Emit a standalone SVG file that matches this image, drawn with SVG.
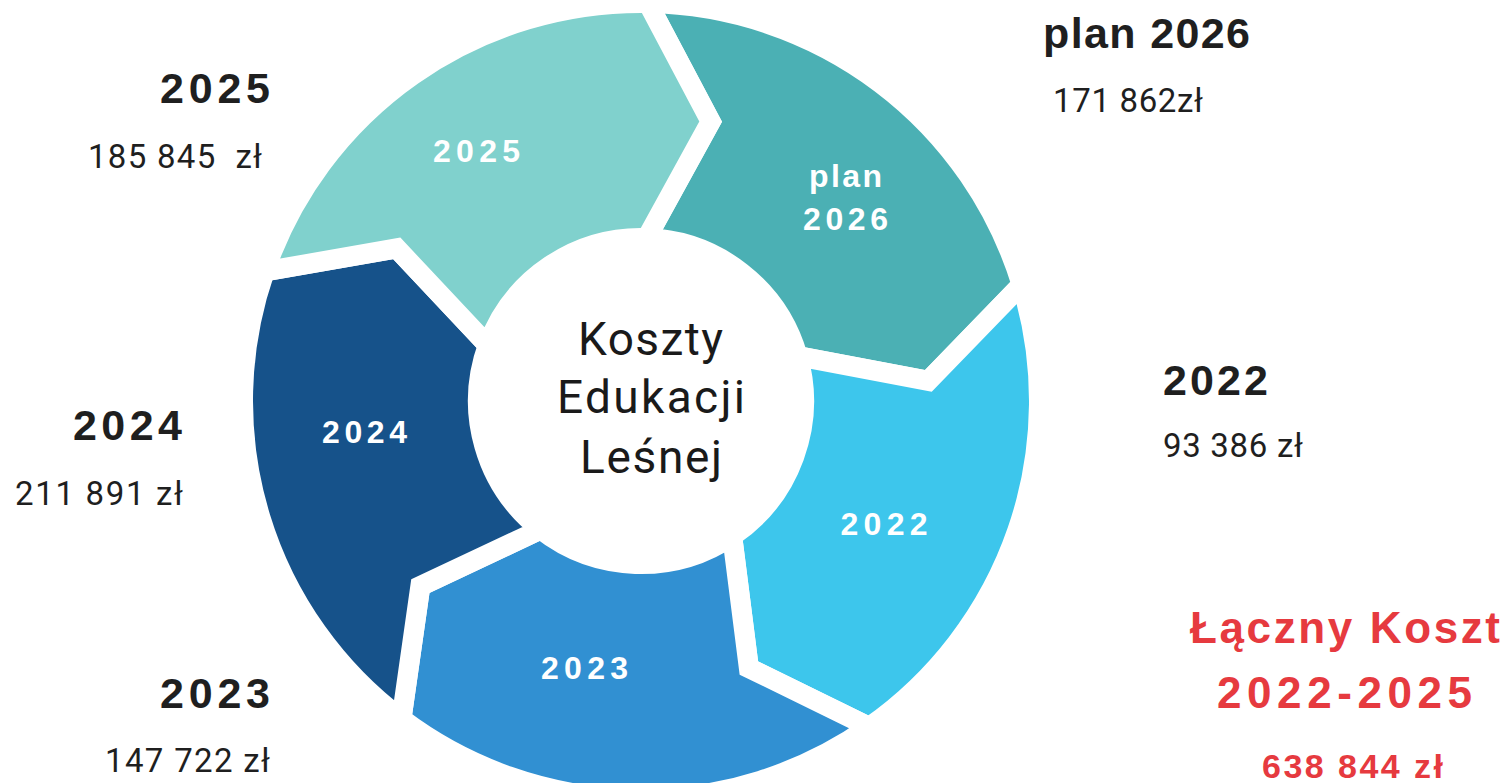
<svg xmlns="http://www.w3.org/2000/svg" width="1509" height="783" viewBox="0 0 1509 783">
<style>
.seg{stroke:#ffffff;stroke-width:20;stroke-linejoin:miter}
.lbl{font-family:"Liberation Sans",Arial,sans-serif;font-weight:700;font-size:32px;fill:#ffffff;text-anchor:middle}
.head{font-family:"Liberation Sans",Arial,sans-serif;font-weight:700;font-size:43px;fill:#1f1f1f}
.val{font-family:Roboto,"Liberation Sans",sans-serif;font-size:33px;fill:#1f1f1f}
.center{font-family:Roboto,"Liberation Sans",sans-serif;font-size:46px;fill:#1a1a1a}
.total{font-family:"Liberation Sans",Arial,sans-serif;font-weight:700;fill:#e63a3f}
</style>
<rect width="1509" height="783" fill="#ffffff"/>
<g id="segments">
<g id="seg-2026">
<path class="seg" fill="#4bb0b4" d="M647.95,3.06 A398,398 0 0 1 1021.61,284.64 L928.30,380.91 L797.69,356.07 A163,163 0 0 0 646.69,238.10 L710.67,121.55 Z"/>
<text class="lbl" x="845.5" y="187" textLength="73" lengthAdjust="spacing">plan</text>
<text class="lbl" x="845.5" y="230" textLength="85" lengthAdjust="spacing">2026</text>
</g>
<g id="seg-2022">
<path class="seg" fill="#3dc6ec" d="M1021.61,284.64 A398,398 0 0 1 869.28,727.02 L748.89,668.03 L732.15,536.13 A163,163 0 0 0 797.69,356.07 L928.30,380.91 Z"/>
<text class="lbl" x="884" y="535" textLength="87" lengthAdjust="spacing">2022</text>
</g>
<g id="seg-2023">
<path class="seg" fill="#3190d2" d="M869.28,727.02 A398,398 0 0 1 401.48,718.86 L420.38,586.12 L540.65,529.45 A163,163 0 0 0 732.15,536.13 L748.89,668.03 Z"/>
<text class="lbl" x="584.5" y="679" textLength="87" lengthAdjust="spacing">2023</text>
</g>
<g id="seg-2024">
<path class="seg" fill="#16528a" d="M401.48,718.86 A398,398 0 0 1 264.68,271.42 L396.76,248.38 L487.83,345.25 A163,163 0 0 0 540.65,529.45 L420.38,586.12 Z"/>
<text class="lbl" x="364.5" y="443" textLength="85" lengthAdjust="spacing">2024</text>
</g>
<g id="seg-2025">
<path class="seg" fill="#80d1cd" d="M264.68,271.42 A398,398 0 0 1 647.95,3.06 L710.67,121.55 L646.69,238.10 A163,163 0 0 0 487.83,345.25 L396.76,248.38 Z"/>
<text class="lbl" x="476.5" y="162" textLength="87" lengthAdjust="spacing">2025</text>
</g>
</g>
<g id="center">
<text class="center" x="578" y="355" textLength="145" lengthAdjust="spacing">Koszty</text>
<text class="center" x="557" y="413" textLength="188" lengthAdjust="spacing">Edukacji</text>
<text class="center" x="580" y="473" textLength="142" lengthAdjust="spacing">Leśnej</text>
</g>
<g id="label-2025">
<text class="head" x="160" y="103" textLength="110" lengthAdjust="spacing">2025</text>
<text class="val" x="88" y="168" textLength="174" lengthAdjust="spacing" xml:space="preserve">185 845  zł</text>
</g>
<g id="label-2026">
<text class="head" x="1043" y="48" textLength="207" lengthAdjust="spacing">plan 2026</text>
<text class="val" x="1053" y="112" textLength="150" lengthAdjust="spacing">171 862zł</text>
</g>
<g id="label-2022">
<text class="head" x="1163" y="395" textLength="105" lengthAdjust="spacing">2022</text>
<text class="val" x="1163" y="457" textLength="140" lengthAdjust="spacing">93 386 zł</text>
</g>
<g id="label-2024">
<text class="head" x="73" y="440" textLength="109" lengthAdjust="spacing">2024</text>
<text class="val" x="15" y="505" textLength="168" lengthAdjust="spacing">211 891 zł</text>
</g>
<g id="label-2023">
<text class="head" x="160" y="708" textLength="110" lengthAdjust="spacing">2023</text>
<text class="val" x="105" y="772" textLength="165" lengthAdjust="spacing">147 722 zł</text>
</g>
<g id="total">
<text class="total" x="1190" y="643" font-size="44" textLength="310" lengthAdjust="spacing">Łączny Koszt</text>
<text class="total" x="1217" y="708" font-size="44" textLength="255" lengthAdjust="spacing">2022-2025</text>
<text class="total" x="1262" y="778" font-size="34" textLength="181" lengthAdjust="spacing">638 844 zł</text>
</g>
</svg>
